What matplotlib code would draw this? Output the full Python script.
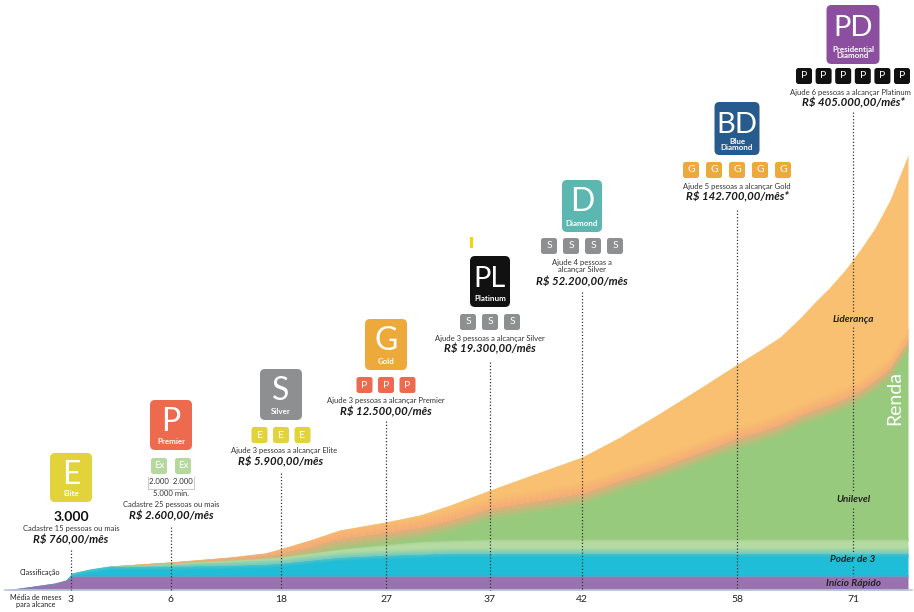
import matplotlib
matplotlib.use("Agg")
import matplotlib.pyplot as plt
import numpy as np
from matplotlib.patches import FancyBboxPatch, Rectangle
from matplotlib.colors import to_rgb

plt.rcParams['font.family'] = ['Lato', 'DejaVu Sans']

# ---- dados ----
months = [3, 6, 18, 27, 37, 42, 58, 71]
rank_codes = ["E", "P", "S", "G", "PL", "D", "BD", "PD"]
rank_names = ["Elite", "Premier", "Silver", "Gold", "Platinum", "Diamond",
              "Blue\nDiamond", "Presidential\nDiamond"]
requirements = ["Cadastre 15 pessoas ou mais", "Cadastre 25 pessoas ou mais",
                "Ajude 3 pessoas a alcançar Elite", "Ajude 3 pessoas a alcançar Premier",
                "Ajude 3 pessoas a alcançar Silver", "Ajude 4 pessoas a\nalcançar Silver",
                "Ajude 5 pessoas a alcançar Gold", "Ajude 6 pessoas a alcançar Platinum"]
income = ["R$ 760,00/mês", "R$ 2.600,00/mês", "R$ 5.900,00/mês", "R$ 12.500,00/mês",
          "R$ 19.300,00/mês", "R$ 52.200,00/mês", "R$ 142.700,00/mês*", "R$ 405.000,00/mês*"]
helper_code = [None, "Ex", "E", "P", "S", "S", "G", "P"]
helper_count = [0, 2, 3, 3, 3, 4, 5, 6]
elite_points = "3.000"
premier_points = ["2.000", "2.000"]
premier_min = "5.000 mín."

# curvas empilhadas (altura acima da base, em px do gráfico)
curve_x = [5, 27, 55, 66, 72, 90, 110, 140, 170, 230, 265, 280, 310, 340, 386, 420, 450,
           490, 540, 582, 620, 660, 700, 739, 760, 780, 800, 815, 830, 845, 860, 875, 890, 908]
total_h = [0, 3, 7, 10, 17, 21, 24, 26, 28, 33, 37, 41, 50, 60, 68, 75, 85,
           100, 118, 133, 153, 177, 202, 227, 240, 253, 272, 288, 303, 320, 340, 362, 390, 435]
green_h = [0, 3, 7, 10, 17, 21, 24, 26, 28, 32, 35, 37, 44, 52, 58, 63, 70,
           82, 90, 97, 110, 123, 138, 153, 159, 166, 175, 181, 186, 192, 200, 210, 222, 250]
lightgreen_h = [0, 3, 7, 10, 17, 21, 24, 25, 27, 30, 32, 33, 37, 41, 45, 48, 49,
                50, 50, 50, 50, 50, 50, 50, 50, 50, 50, 50, 50, 50, 50, 50, 50, 50]
cyan_h = [0, 3, 7, 10, 17, 21, 24, 24, 24, 25, 26, 27, 30, 33, 35, 36, 37,
          37, 37, 37, 37, 37, 37, 37, 37, 37, 37, 37, 37, 37, 37, 37, 37, 37]
purple_h = [0, 3, 7, 10, 14, 14, 14, 14, 14, 14, 14, 14, 14, 14, 14, 14, 14,
            14, 14, 14, 14, 14, 14, 14, 14, 14, 14, 14, 14, 14, 14, 14, 14, 14]
layer_names = ["Início Rápido", "Poder de 3", "Unilevel", "Liderança"]

# ---- estilo ----
BASE = 590
C_PURPLE = "#9a72b0"
C_CYAN = "#1fbdd8"
C_LGREEN = "#b5dba2"
C_GREEN = "#98ca7d"
C_SALMON = "#f5a878"
C_ORANGE = "#f8c070"
rank_colors = ["#e2d33b", "#ee6a4f", "#8e8f91", "#edaa3b", "#111111", "#5cb7b1", "#275b8d", "#8c4f9f"]
helper_colors = {"Ex": "#b5d89d", "E": "#e2d33b", "P": "#ee6a4f", "S": "#8e8f91", "G": "#edaa3b"}
rank_x = [71, 171, 281, 386, 490, 582, 737, 853]
badge_top = [453, 400, 369, 319, 256, 180, 102, 5]
badge_w = [42, 42, 42, 42, 40, 40, 45, 53]
badge_h = [49, 50, 51, 51, 51, 52, 53, 59]
line_top = [550, 527, 473, 421, 362, 292, 210, 112]
tok_spacing = [22, 24, 21.5, 21.5, 22, 22, 23, 19.6]


def Y(p):
    return BASE - p


fig = plt.figure(figsize=(9.14, 6.12), dpi=100)
ax = fig.add_axes([0, 0, 1, 1])
ax.set_xlim(0, 914)
ax.set_ylim(BASE - 612, BASE)
ax.axis("off")

x = np.array(curve_x, float)
tot = np.array(total_h, float)
gr = np.array(green_h, float)
lg = np.array(lightgreen_h, float)
cy = np.array(cyan_h, float)
pu = np.array(purple_h, float)

ax.fill_between(x, 0, pu, color=C_PURPLE, lw=0, zorder=1)
ax.fill_between(x, pu, cy, color=C_CYAN, lw=0, zorder=1)
ax.fill_between(x, cy, lg, color=C_LGREEN, lw=0, zorder=1)
ax.fill_between(x, lg, gr, color=C_GREEN, lw=0, zorder=1)
ax.fill_between(x, gr, tot, color=C_ORANGE, lw=0, zorder=1)


def blend(mid, below, above, lo_lim, hi_lim, colors, n=16):
    cols = [np.array(to_rgb(c)) for c in colors]
    for i in range(n):
        t0, t1 = i / n, (i + 1) / n
        y0 = np.clip(mid - below + (below + above) * t0, lo_lim, hi_lim)
        y1 = np.clip(mid - below + (below + above) * t1, lo_lim, hi_lim)
        t = (i + 0.5) / n * (len(cols) - 1)
        k = min(int(t), len(cols) - 2)
        c = cols[k] * (1 - (t - k)) + cols[k + 1] * (t - k)
        ax.fill_between(x, y0, y1, color=c, lw=0, zorder=2)


blend(pu, 1.5, 1.5, 0, tot, [C_PURPLE, C_CYAN], n=4)
blend(cy, 4, 6, pu, np.minimum(lg, tot), [C_CYAN, "#6cc8c0", C_LGREEN])
blend(lg, 1.5, 2, cy, tot, [C_LGREEN, C_GREEN], n=6)
blend(gr, 12, 12, lg, tot, [C_GREEN, C_SALMON, C_ORANGE], n=24)

# linha de base
ax.plot([5, 912], [0, 0], color="#b9c9da", lw=1.2, zorder=3)

# linhas pontilhadas
for i, cx in enumerate(rank_x):
    if i < 7:
        ax.plot([cx, cx], [Y(line_top[i]), 0], color="#333333", lw=0.9,
                ls=(0, (1, 1.6)), zorder=4)
seg = [(112, 312), (327, 491), (508, 552), (566, 576)]
for a, b in seg:
    ax.plot([853, 853], [Y(a), Y(b)], color="#333333", lw=0.9, ls=(0, (1, 1.6)), zorder=4)

# rótulos das camadas
label_y = [583, 559, 500, 319]
for name, py in zip(layer_names, label_y):
    ax.text(853, Y(py), name, ha="center", va="center", fontsize=7.2,
            fontweight="bold", style="italic", color="#222222", zorder=6)
ax.text(895, Y(398), "Renda", rotation=90, ha="center", va="center", fontsize=14,
        color="white", zorder=6)

# eixo
for cx, m in zip(rank_x, months):
    ax.text(cx, Y(600), str(m), ha="center", va="center", fontsize=7.5, color="#222222")
ax.text(36, Y(601), "Média de meses\npara alcance", ha="center", va="center",
        fontsize=5.2, color="#222222", linespacing=1.0)
ax.text(40, Y(573), "Classificação", ha="center", va="center", fontsize=5.2, color="#222222")


def rbox(cx, cy_, w, h, r, color, z=5):
    ax.add_patch(FancyBboxPatch((cx - w / 2 + r, Y(cy_ + h / 2) + r), w - 2 * r, h - 2 * r,
                                boxstyle=f"round,pad={r}", fc=color, ec="none", zorder=z))


for i in range(8):
    cx, top, w, h = rank_x[i], badge_top[i], badge_w[i], badge_h[i]
    rbox(cx, top + h / 2, w, h, 5, rank_colors[i])
    code = rank_codes[i]
    two = len(code) > 1
    ax.text(cx, Y(top + (31 if not two else 31)), code, ha="center", va="baseline", color="white",
            fontsize=23 if not two else 21, zorder=6)
    name = rank_names[i]
    ny = top + h * (0.83 if "\n" not in name else 0.8)
    ax.text(cx, Y(ny), name, ha="center", va="center", color="white", fontsize=5.8,
            fontweight="bold", linespacing=0.9, zorder=6)

    n = helper_count[i]
    if n:
        ty = top + h + 16 if i == 1 else top + h + 15
        if i == 5:
            ty = top + h + 14
        if i == 7:
            ty = top + h + 12
        for k in range(n):
            tx = cx + (k - (n - 1) / 2) * tok_spacing[i]
            col = "#111111" if i == 7 else helper_colors[helper_code[i]]
            rbox(tx, ty, 16, 16, 2.5, col)
            ax.text(tx, Y(ty), helper_code[i], ha="center", va="center", color="white",
                    fontsize=7.5 if i != 1 else 7, zorder=6)
        tok_bottom = ty + 8
    else:
        tok_bottom = top + h

    if i == 0:
        ax.text(cx, Y(517), elite_points, ha="center", va="center", fontsize=10,
                fontweight="bold", color="#111111")
        ry, vy = 528, 540
    elif i == 1:
        ax.text(cx, Y(482), "  ".join(premier_points), ha="center", va="center",
                fontsize=5.6, color="#333333")
        ax.plot([148, 148, 194, 194], [Y(477), Y(489), Y(489), Y(477)], color="#cccccc",
                lw=0.8, zorder=4)
        ax.text(cx, Y(493), premier_min, ha="center", va="center", fontsize=5.6, color="#333333")
        ry, vy = 505, 516
    elif i == 5:
        ry, vy = 266, 282
    else:
        ry, vy = tok_bottom + 8, tok_bottom + 19
    ax.text(cx + (3 if i == 2 else (-3 if i == 7 else 0)), Y(ry), requirements[i],
            ha="center", va="center", fontsize=5.5, color="#333333", linespacing=1.15)
    ax.text(cx, Y(vy), income[i], ha="center", va="center", fontsize=8.2,
            fontweight="bold", style="italic", color="#1a1a1a")

# marca amarela acima do Platinum
ax.add_patch(Rectangle((470, Y(248)), 3, 11, fc="#f2d800", ec="none", zorder=5))

fig.savefig("out.png", dpi=100)
